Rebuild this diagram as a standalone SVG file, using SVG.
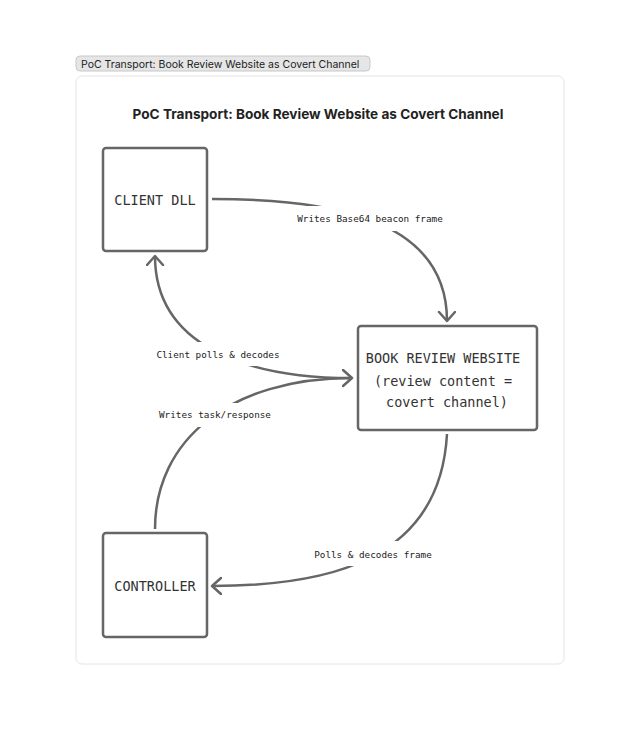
<svg xmlns="http://www.w3.org/2000/svg" width="640" height="741" viewBox="0 0 640 741">
<style>
.node rect{fill:#fff;stroke:#666;stroke-width:2.5}
.nt{font-family:"DejaVu Sans Mono","Liberation Mono",monospace;font-size:13.5px;fill:#333;text-anchor:middle;dominant-baseline:central}
.edge{fill:none;stroke:#666;stroke-width:2.5}
.lbg{fill:#fff}
.lt{font-family:"DejaVu Sans Mono","Liberation Mono",monospace;font-size:9.3px;fill:#222;text-anchor:middle;dominant-baseline:central}
</style>
<defs>
<marker id="arr" markerUnits="userSpaceOnUse" markerWidth="14" markerHeight="20" refX="10" refY="9" orient="auto" viewBox="0 0 14 20">
<path d="M1,1 L10,9 L1,17" fill="none" stroke="#666" stroke-width="2.5" stroke-linecap="round" stroke-linejoin="round"/>
</marker>
</defs>
<rect width="640" height="741" fill="#fff"/>
<g id="tab">
<rect x="76" y="56" width="294" height="15" rx="4" fill="#e6e6e6" stroke="#c8c8c8" stroke-width="1"/>
<text x="81" y="67.5" font-family="Inter,'Liberation Sans',sans-serif" font-size="10.5" fill="#222">PoC Transport: Book Review Website as Covert Channel</text>
</g>
<rect x="76" y="76" width="488" height="588" rx="6" fill="#fff" stroke="#e4e4e4" stroke-width="1"/>
<text x="318" y="119" font-family="Inter,'Liberation Sans',sans-serif" font-size="13.6" font-weight="bold" fill="#222" text-anchor="middle">PoC Transport: Book Review Website as Covert Channel</text>
<g id="connectors">
<path class="edge" d="M212,199 C315,199 447,212 447,321" marker-end="url(#arr)"/>
<path class="edge" d="M447,434 C440,560 330,586 212,586" marker-end="url(#arr)"/>
<path class="edge" d="M155,529 C155,440 230,378 352,378" marker-end="url(#arr)"/>
<path class="edge" d="M352,378 C245,378 155,345 155,256" marker-end="url(#arr)"/>
<rect class="lbg" x="296" y="206" width="149" height="25"/>
<text class="lt" x="370" y="218.5">Writes Base64 beacon frame</text>
<rect class="lbg" x="155" y="342" width="126" height="24"/>
<text class="lt" x="218" y="354">Client polls &amp; decodes</text>
<rect class="lbg" x="158" y="403" width="114" height="24"/>
<text class="lt" x="215" y="414.5">Writes task/response</text>
<rect class="lbg" x="313" y="541" width="121" height="25"/>
<text class="lt" x="373" y="554">Polls &amp; decodes frame</text>
</g>
<g id="client" class="node">
<rect x="103" y="148" width="104" height="103" rx="3"/>
<text class="nt" x="155" y="200">CLIENT DLL</text>
</g>
<g id="website" class="node">
<rect x="358" y="326" width="179" height="104" rx="3"/>
<text class="nt" x="443" y="358">BOOK REVIEW WEBSITE</text>
<text class="nt" x="443" y="381">(review content =</text>
<text class="nt" x="447" y="402">covert channel)</text>
</g>
<g id="controller" class="node">
<rect x="103" y="533" width="104" height="104" rx="3"/>
<text class="nt" x="155" y="586">CONTROLLER</text>
</g>
</svg>
